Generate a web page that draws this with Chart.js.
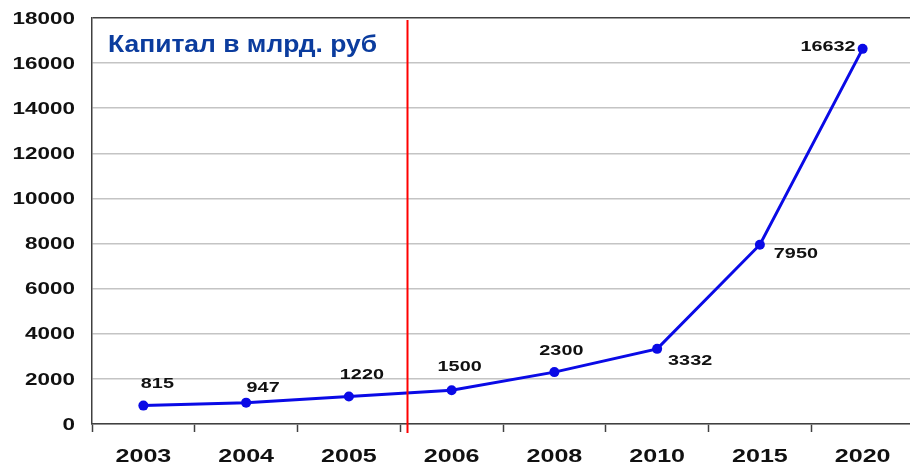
<!DOCTYPE html>
<html>
<head>
<meta charset="utf-8">
<script src="https://cdn.jsdelivr.net/npm/chart.js@4.4.0/dist/chart.umd.min.js"></script>
<style>
  html, body { margin: 0; padding: 0; background: #fff; overflow: hidden; }
  canvas { display: block; }
</style>
</head>
<body>
<!-- a bit wider than the window: the reference plot runs off the right edge -->
<canvas id="myChart" width="919" height="465"></canvas>
<script>
// data
var years = ['2003', '2004', '2005', '2006', '2008', '2010', '2015', '2020'];
var capital = [815, 947, 1220, 1500, 2300, 3332, 7950, 16632];
var yTicks = [0, 2000, 4000, 6000, 8000, 10000, 12000, 14000, 16000, 18000];
var chartTitle = 'Капитал в млрд. руб';

// where each value label sits relative to its point (dx, dy, align)
var labelPlace = [
    [14, -22, 'center'], [17, -15, 'center'], [13, -22, 'center'], [8, -23, 'center'],
    [7, -21, 'center'], [33, 12, 'center'], [36, 9, 'center'], [-7, -2, 'right']
];

var FONT = '"Liberation Sans", Arial, sans-serif';

// the original text looks horizontally stretched, so draw it scaled
function stretchText(ctx, text, x, y, align, sx) {
    ctx.save();
    ctx.translate(x, y);
    ctx.scale(sx, 1);
    ctx.textAlign = align;
    ctx.textBaseline = 'middle';
    ctx.fillText(text, 0, 0);
    ctx.restore();
}

var extras = {
    id: 'extras',
    afterDraw: function(chart) {
        var ctx = chart.ctx;
        var area = chart.chartArea;
        var xs = chart.scales.x;
        var ys = chart.scales.y;

        // axis labels
        ctx.save();
        ctx.fillStyle = '#111';
        ctx.font = 'bold 17px ' + FONT;
        yTicks.forEach(function(v) {
            stretchText(ctx, String(v), area.left - 17, ys.getPixelForValue(v) + 1, 'right', 1.32);
        });
        ctx.font = 'bold 19px ' + FONT;
        years.forEach(function(y, i) {
            stretchText(ctx, y, xs.getPixelForValue(i), 457, 'center', 1.32);
        });
        ctx.restore();

        // red divider between 2005 and 2006
        var a = xs.getPixelForValue(2), b = xs.getPixelForValue(3);
        var rx = Math.round(a + 0.57 * (b - a)) + 0.5;
        ctx.save();
        ctx.strokeStyle = '#ff0000';
        ctx.lineWidth = 2;
        ctx.beginPath();
        ctx.moveTo(rx, area.top + 2);
        ctx.lineTo(rx, area.bottom + 9);
        ctx.stroke();
        ctx.restore();

        // value labels
        var meta = chart.getDatasetMeta(0);
        ctx.save();
        ctx.font = 'bold 15px ' + FONT;
        ctx.fillStyle = '#111';
        meta.data.forEach(function(pt, i) {
            var p = labelPlace[i];
            stretchText(ctx, String(capital[i]), pt.x + p[0], pt.y + p[1], p[2], 1.32);
        });
        ctx.restore();

        // title inside the plot
        ctx.save();
        ctx.font = 'bold 23px ' + FONT;
        ctx.fillStyle = '#0b3c9e';
        stretchText(ctx, chartTitle, area.left + 16, 46, 'left', 1.15);
        ctx.restore();
    }
};

var ctx = document.getElementById('myChart').getContext('2d');
var chart = new Chart(ctx, {
    type: 'line',
    data: {
        labels: years,
        datasets: [{
            data: capital,
            borderColor: '#0a0ae6',
            backgroundColor: '#0a0ae6',
            borderWidth: 3,
            pointRadius: 5,
            pointHoverRadius: 5,
            pointBackgroundColor: '#0a0ae6',
            pointBorderWidth: 0,
            fill: false,
            tension: 0
        }]
    },
    options: {
        responsive: false,
        animation: false,
        layout: { padding: { top: 18, right: 0, left: 0, bottom: 0 } },
        plugins: {
            legend: { display: false },
            tooltip: { enabled: false }
        },
        scales: {
            x: {
                offset: true,
                grid: {
                    offset: true,
                    drawOnChartArea: false,
                    drawTicks: true,
                    tickLength: 8,
                    tickColor: '#404040',
                    tickWidth: 1.5
                },
                border: { color: '#404040', width: 1.5 },
                ticks: { display: false },
                afterFit: function(scale) { scale.height = 41; }
            },
            y: {
                min: 0,
                max: 18000,
                ticks: { display: false, stepSize: 2000 },
                grid: {
                    drawTicks: false,
                    lineWidth: 1.5,
                    color: function(c) { return c.tick && c.tick.value === 18000 ? '#404040' : '#c4c4c4'; }
                },
                border: { color: '#404040', width: 1.5 },
                afterFit: function(scale) { scale.width = 92; }
            }
        }
    },
    plugins: [extras]
});
</script>
</body>
</html>
